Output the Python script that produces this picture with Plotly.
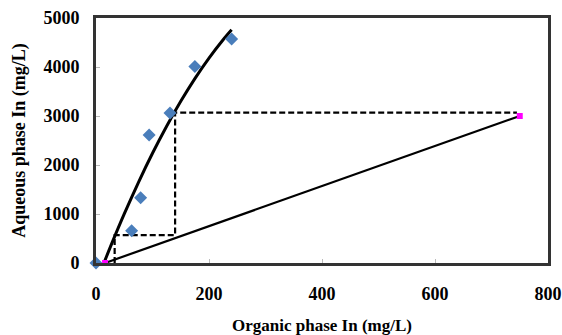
import plotly.graph_objects as go

# Experimental equilibrium points
org_pts = [0, 63, 79, 94, 131, 175, 240]
aq_pts = [0, 660, 1330, 2610, 3060, 4010, 4570]

# Equilibrium (trend) curve
eq_x = [14, 30, 50, 75, 100, 125, 150, 175, 200, 225, 240]
eq_y = [0, 456, 1001, 1642, 2239, 2791, 3299, 3763, 4182, 4557, 4760]

# Operating line
op_x = [16, 750]
op_y = [0, 3000]

# McCabe-Thiele stages (dashed)
st_x = [33, 33, 140, 140, 745]
st_y = [0, 570, 570, 3070, 3070]

x_ticks = [0, 200, 400, 600, 800]
y_ticks = [0, 1000, 2000, 3000, 4000, 5000]

font_fam = "Liberation Serif"

fig = go.Figure()
fig.add_trace(go.Scatter(x=st_x, y=st_y, mode="lines",
                         line=dict(color="black", width=2.2, dash="6px,3px"),
                         showlegend=False, hoverinfo="skip"))
fig.add_trace(go.Scatter(x=op_x, y=op_y, mode="lines",
                         line=dict(color="black", width=2.2),
                         showlegend=False))
fig.add_trace(go.Scatter(x=eq_x, y=eq_y, mode="lines",
                         line=dict(color="black", width=3, shape="spline", smoothing=0.8),
                         showlegend=False))
fig.add_trace(go.Scatter(x=org_pts, y=aq_pts, mode="markers",
                         marker=dict(symbol="diamond", size=10, color="#4A7EBB"),
                         cliponaxis=False, showlegend=False))
fig.add_trace(go.Scatter(x=op_x, y=op_y, mode="markers",
                         marker=dict(symbol="square", size=6, color="#FF00FF"),
                         cliponaxis=False, showlegend=False))

fig.update_layout(
    width=562, height=335,
    margin=dict(l=96, r=14, t=18, b=72),
    paper_bgcolor="white", plot_bgcolor="white",
    font=dict(family=font_fam, size=18, color="black"),
    xaxis=dict(range=[0, 800], tickvals=x_ticks, showgrid=False, zeroline=False,
               automargin=False,
               showline=True, linecolor="#333333", linewidth=3, mirror=True,
               ticks="inside", ticklen=4, tickcolor="#bbbbbb", tickwidth=1,
               ticklabelstandoff=12,
               tickfont=dict(family=font_fam, size=18, color="black", weight="bold"),
               title=dict(text="<b>Organic phase In (mg/L)</b>", standoff=17,
                          font=dict(family=font_fam, size=17, color="black"))),
    yaxis=dict(range=[0, 5000], tickvals=y_ticks, showgrid=False, zeroline=False,
               automargin=False,
               showline=True, linecolor="#333333", linewidth=3, mirror=True,
               ticks="inside", ticklen=4, tickcolor="#bbbbbb", tickwidth=1,
               ticklabelstandoff=10,
               tickfont=dict(family=font_fam, size=18, color="black", weight="bold"),
               title=dict(text="<b>Aqueous phase In (mg/L)</b>", standoff=14,
                          font=dict(family=font_fam, size=18, color="black"))),
)

fig.write_html("out.html")
